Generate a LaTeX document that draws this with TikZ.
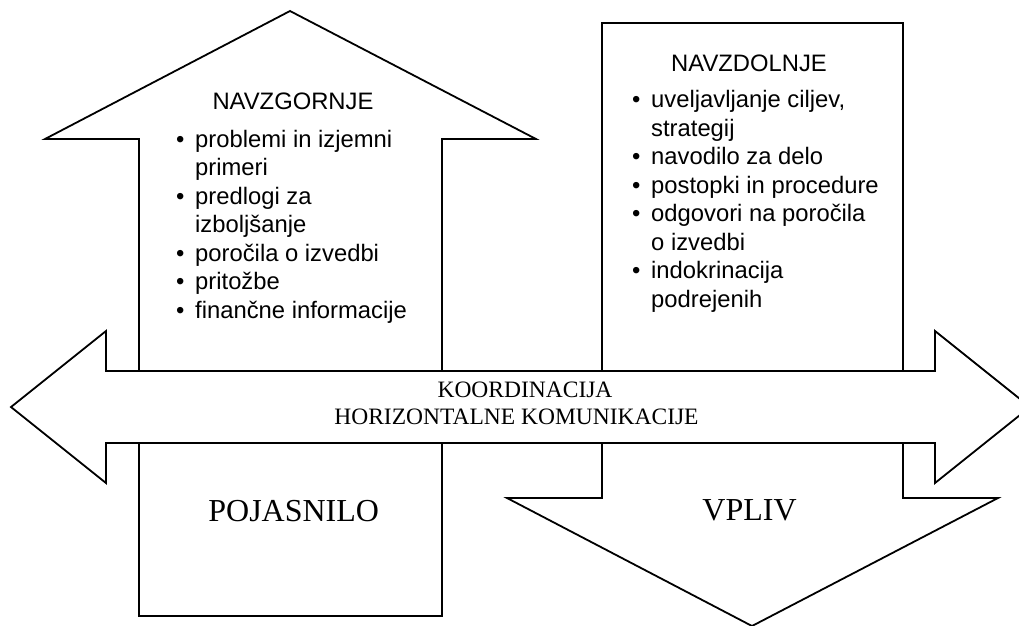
\documentclass[tikz,border=0pt]{standalone}
\usepackage{fontspec}
\setmainfont{Liberation Serif}
\newfontfamily\arialfont{Liberation Sans}
\begin{document}
\begin{tikzpicture}[x=1pt,y=-1pt,
  shape outline/.style={draw=black,fill=white,line width=1.8pt,line join=miter},
  sanslist/.style={inner sep=0pt,align=left,anchor=base west,
    font=\arialfont\fontsize{23.8}{28.5}\selectfont},
  sanstitle/.style={inner sep=0pt,anchor=base,
    font=\arialfont\fontsize{23.8}{28.5}\selectfont},
  serifbig/.style={inner sep=0pt,anchor=base,
    font=\fontsize{32}{38}\selectfont},
  serifmid/.style={inner sep=0pt,align=center,anchor=base,
    font=\fontsize{23.5}{27}\selectfont}]
\useasboundingbox (0,0) rectangle (1019,625);

% upward arrow (NAVZGORNJE / POJASNILO)
\draw[shape outline] (139,616) -- (139,139) -- (45,139) -- (290,11)
  -- (536,139) -- (442,139) -- (442,616) -- cycle;

% downward arrow (NAVZDOLNJE / VPLIV)
\draw[shape outline] (602,23) -- (903,23) -- (903,498) -- (998,498)
  -- (752,626) -- (507,498) -- (602,498) -- cycle;

% horizontal double arrow across both
\draw[shape outline] (11,407) -- (106,331) -- (106,371) -- (935,371)
  -- (935,331) -- (1030,407) -- (935,483) -- (935,443) -- (106,443)
  -- (106,483) -- cycle;

\newcommand{\bul}{\makebox[19pt][l]{•}}
\newcommand{\ind}{\hspace*{19pt}}

% multi-line nodes are anchored at the baseline of their last line
\node[sanstitle] (upt) at (293,109) {NAVZGORNJE};
\node[sanslist] (upl) at (176,318) {\bul problemi in izjemni\\
\ind primeri\\
\bul predlogi za\\
\ind izboljšanje\\
\bul poročila o izvedbi\\
\bul pritožbe\\
\bul finančne informacije};

\node[sanstitle] (dnt) at (749,71) {NAVZDOLNJE};
\node[sanslist] (dnl) at (632,307) {\bul uveljavljanje ciljev,\\
\ind strategij\\
\bul navodilo za delo\\
\bul postopki in procedure\\
\bul odgovori na poročila\\
\ind o izvedbi\\
\bul indokrinacija\\
\ind podrejenih};

\node[serifmid] (hor) at (516.5,424) {\hspace*{17pt}KOORDINACIJA\\HORIZONTALNE KOMUNIKACIJE};

\node[serifbig] (poj) at (293.7,521) {POJASNILO};
\node[serifbig] (vpl) at (749.5,520) {VPLIV};
\end{tikzpicture}
\end{document}
